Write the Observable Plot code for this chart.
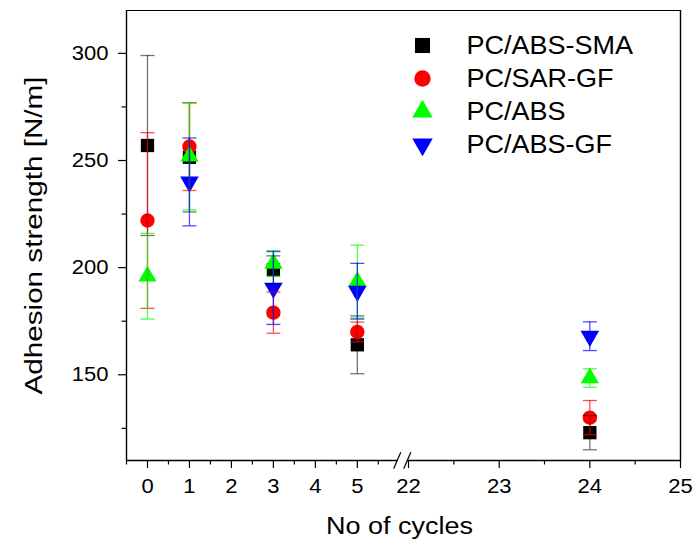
<!DOCTYPE html>
<html>
<head>
<meta charset="utf-8">
<script src="https://cdn.jsdelivr.net/npm/d3@7"></script>
<script src="https://cdn.jsdelivr.net/npm/@observablehq/plot@0.6"></script>
<style>
  html, body { margin: 0; padding: 0; background: #fff; }
  svg { font-family: "Liberation Sans", Arial, sans-serif; }
</style>
</head>
<body>
<div id="chart"></div>
<script>
// ---- data ----
const series = ["PC/ABS-SMA", "PC/SAR-GF", "PC/ABS", "PC/ABS-GF"];
const colors = ["#000000", "#ff0000", "#00ff00", "#0000ff"];
const cycles = [0, 1, 3, 5, 24];
const smaValues = [257, 251.5, 199, 164, 123];
const smaErrors = [42, 25.5, 6.5, 13.5, 8];
const sarValues = [222, 256.5, 179, 170, 130];
const sarErrors = [41, 20.5, 9.6, 4.6, 8];
const absValues = [196, 252, 202, 193.5, 148.5];
const absErrors = [20, 25, 6, 17, 4.3];
const absGfValues = [null, 240, 190.5, 189, 168];
const absGfErrors = [null, 20.5, 17, 13, 6.7];
const xTickLabels = [0, 1, 2, 3, 4, 5, 22, 23, 24, 25];
const xMinorTicks = [-0.5, 0.5, 1.5, 2.5, 3.5, 4.5, 5.5, 22.5, 23.5, 24.5];
const yTicks = [150, 200, 250, 300];
const yMinorTicks = [125, 175, 225, 275];
const xTitle = "No of cycles";
const yTitle = "Adhesion strength [N/m]";

// ---- broken x axis: two linear segments ----
const BREAK_AT = 22, GAP_POS = 6.22, RIGHT_SCALE = 2.16;
const pos = c => c < 10 ? c : GAP_POS + (c - BREAK_AT) * RIGHT_SCALE;
const xDomain = [-0.5, pos(25)];
const yDomain = [110, 320];

const allValues = [smaValues, sarValues, absValues, absGfValues];
const allErrors = [smaErrors, sarErrors, absErrors, absGfErrors];
const rows = [];
series.forEach((s, si) => {
  cycles.forEach((c, ci) => {
    const v = allValues[si][ci];
    if (v == null) return;
    const e = allErrors[si][ci];
    rows.push({series: s, si, x: pos(c), y: v, lo: v - e, hi: v + e});
  });
});

// symbols
const sqrt3 = Math.sqrt(3);
const triangleDown = {
  draw(context, size) {
    const y = -Math.sqrt(size / (sqrt3 * 3));
    context.moveTo(0, -y * 2);
    context.lineTo(-sqrt3 * y, y);
    context.lineTo(sqrt3 * y, y);
    context.closePath();
  }
};
const hline = {
  draw(context, size) {
    const w = Math.sqrt(size) / 2;
    context.moveTo(-w, 0);
    context.lineTo(w, 0);
  }
};
const symbols = [d3.symbolSquare, d3.symbolCircle, d3.symbolTriangle, triangleDown];
const dotR = [7.5, 7.2, 6.8, 6.9];
const legendR = [8.5, 8.2, 7.6, 7.6];

const labelOf = new Map(xTickLabels.map(v => [pos(v).toFixed(4), String(v)]));

const marks = [];
// points
series.forEach((s, si) => {
  marks.push(Plot.dot(rows.filter(d => d.si === si), {
    x: "x", y: "y", symbol: () => symbols[si], r: dotR[si], fill: colors[si], stroke: "none"
  }));
});
// error bars (drawn over symbols)
series.forEach((s, si) => {
  const data = rows.filter(d => d.si === si);
  const opts = {stroke: colors[si], strokeOpacity: si === 0 ? 0.55 : 0.7, strokeWidth: 1.3};
  marks.push(Plot.ruleX(data, {x: "x", y1: "lo", y2: "hi", ...opts}));
  marks.push(Plot.dot(data, {x: "x", y: "lo", symbol: () => hline, r: 7.9, fill: "none", ...opts}));
  marks.push(Plot.dot(data, {x: "x", y: "hi", symbol: () => hline, r: 7.9, fill: "none", ...opts}));
});

// frame (bottom line broken)
const gapL = 5.95, gapR = 6.19;
marks.push(Plot.ruleY([yDomain[1]], {stroke: "#000", strokeWidth: 1.2}));
marks.push(Plot.ruleX([xDomain[0], xDomain[1]], {stroke: "#000", strokeWidth: 1.4}));
marks.push(Plot.link([
  {x1: xDomain[0], x2: gapL},
  {x1: gapR, x2: xDomain[1]}
], {x1: "x1", x2: "x2", y1: () => yDomain[0], y2: () => yDomain[0], stroke: "#000", strokeWidth: 1.4}));
// break slashes
const sx = 0.085, sy = 3.8;
marks.push(Plot.link([gapL, gapR], {
  x1: d => d - sx, x2: d => d + sx, y1: () => yDomain[0] - sy, y2: () => yDomain[0] + sy,
  stroke: "#000", strokeWidth: 1.2
}));

// axes
marks.push(Plot.axisY(yTicks, {tickSize: 8, tickPadding: 10, fontSize: 20, tickFormat: d => String(d), stroke: "#000", strokeWidth: 1.2, color: "#000"}));
marks.push(Plot.axisY(yMinorTicks, {tickSize: 4.5, tickFormat: () => "", stroke: "#000", strokeWidth: 1.2}));
marks.push(Plot.axisX(xTickLabels.map(pos), {tickSize: 8, tickPadding: 10, fontSize: 20, tickFormat: d => labelOf.get(d.toFixed(4)), stroke: "#000", strokeWidth: 1.2, color: "#000"}));
marks.push(Plot.axisX(xMinorTicks.map(pos), {tickSize: 4.5, tickFormat: () => "", stroke: "#000", strokeWidth: 1.2}));

// axis titles
marks.push(Plot.text([xTitle], {frameAnchor: "bottom", dy: 66, dx: -4, text: d => d, fontSize: 23, lineAnchor: "middle", textAnchor: "middle", fill: "#000"}));
marks.push(Plot.text([yTitle], {frameAnchor: "left", dx: -92, text: d => d, rotate: -90, fontSize: 23, lineAnchor: "middle", textAnchor: "middle", fill: "#000"}));

// legend
series.forEach((s, si) => {
  marks.push(Plot.dot([s], {frameAnchor: "top-left", dx: 296, dy: 35 + si * 33, symbol: () => symbols[si], r: legendR[si], fill: colors[si], stroke: "none"}));
  marks.push(Plot.text([s], {frameAnchor: "top-left", dx: 340, dy: 35 + si * 33, text: d => d, textAnchor: "start", lineAnchor: "middle", fontSize: 25, fill: "#000"}));
});

const chart = Plot.plot({
  width: 693,
  height: 543,
  marginTop: 10,
  marginBottom: 83,
  marginLeft: 126,
  marginRight: 13,
  style: {fontFamily: '"Liberation Sans", Arial, sans-serif', background: "#fff"},
  x: {type: "linear", domain: xDomain, axis: null},
  y: {type: "linear", domain: yDomain, axis: null},
  symbol: {type: "identity"},
  marks
});
document.getElementById("chart").appendChild(chart);

// widen glyphs to match the reference's broader lettering
d3.select(chart).selectAll("text").each(function () {
  const t = this.textContent;
  if (!t) return;
  const len = this.getComputedTextLength();
  let target;
  if (t === xTitle) target = 147;
  else if (t === yTitle) target = 318;
  else if (series.includes(t)) target = len * 1.08;
  else target = len * 1.1;
  this.setAttribute("textLength", target);
  this.setAttribute("lengthAdjust", "spacingAndGlyphs");
});
</script>
</body>
</html>
